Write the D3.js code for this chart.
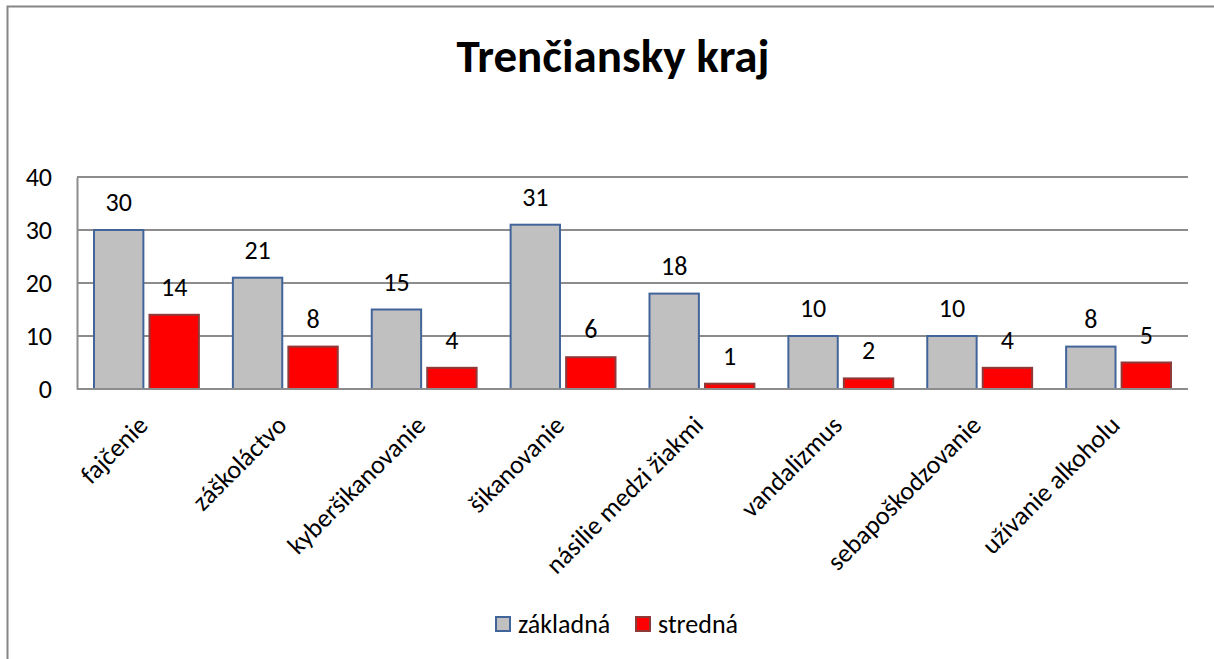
<!DOCTYPE html>
<meta charset="utf-8">
<script src="https://d3js.org/d3.v7.min.js"></script>
<style>
  body { margin: 0; background: #fff; }
  text { font-family: Carlito, Lato, "Noto Sans", sans-serif; fill: #000; }
</style>
<div id="my_dataviz"></div>
<script>

// data
var categories = ["fajčenie", "záškoláctvo", "kyberšikanovanie", "šikanovanie",
                  "násilie medzi žiakmi", "vandalizmus", "sebapoškodzovanie", "užívanie alkoholu"];
var zakladna = [30, 21, 15, 31, 18, 10, 10, 8];
var stredna  = [14, 8, 4, 6, 1, 2, 4, 5];
var seriesNames = ["základná", "stredná"];
var yTicks = [0, 10, 20, 30, 40];

var W = 1214, H = 659;
var margin = {top: 177, left: 77},
    width = 1188 - margin.left,
    height = 389 - margin.top;
var fs = 26;

var svg = d3.select("#my_dataviz")
  .append("svg")
    .attr("width", W)
    .attr("height", H);

// outer chart border (cropped at right and bottom)
svg.append("rect")
  .attr("x", 7.5).attr("y", 6.5)
  .attr("width", W + 20).attr("height", H + 20)
  .attr("fill", "none")
  .attr("stroke", "#868686")
  .attr("stroke-width", 2);

svg.append("text")
  .attr("x", 613)
  .attr("y", 72)
  .attr("text-anchor", "middle")
  .attr("font-size", 47)
  .attr("font-weight", "bold")
  .text("Trenčiansky kraj");

var g = svg.append("g")
  .attr("transform", "translate(" + margin.left + "," + margin.top + ")");

var y = d3.scaleLinear().domain([0, 40]).range([height, 0]);
var x = d3.scaleBand().domain(categories).range([0, width]);
var xs = d3.scaleBand().domain(seriesNames).range([17, x.bandwidth() - 17]).paddingInner(0.11);

// gridlines
g.selectAll(".grid")
  .data(yTicks)
  .enter().append("line")
    .attr("x1", 0).attr("x2", width)
    .attr("y1", function(d) { return y(d); })
    .attr("y2", function(d) { return y(d); })
    .attr("stroke", "#8c8c8c")
    .attr("stroke-width", 2);

// y axis
var yAxis = g.append("g")
  .call(d3.axisLeft(y).tickValues(yTicks).tickSize(0).tickPadding(25));
yAxis.select(".domain").attr("stroke", "#8c8c8c").attr("stroke-width", 2);
yAxis.selectAll("text")
  .attr("font-size", fs)
  .attr("fill", "#000")
  .style("font-family", "Carlito, Lato, 'Noto Sans', sans-serif");

var colors = {"základná": "#c0c0c0", "stredná": "#ff0000"};
var strokes = {"základná": "#41659a", "stredná": "#8f3a3a"};

var rows = categories.map(function(c, i) {
  return [{cat: c, s: "základná", v: zakladna[i]}, {cat: c, s: "stredná", v: stredna[i]}];
});

var grp = g.selectAll(".grp")
  .data(rows)
  .enter().append("g")
    .attr("transform", function(d) { return "translate(" + x(d[0].cat) + ",0)"; });

grp.selectAll("rect")
  .data(function(d) { return d; })
  .enter().append("rect")
    .attr("x", function(d) { return xs(d.s); })
    .attr("y", function(d) { return y(d.v); })
    .attr("width", xs.bandwidth())
    .attr("height", function(d) { return height - y(d.v); })
    .attr("fill", function(d) { return colors[d.s]; })
    .attr("stroke", function(d) { return strokes[d.s]; })
    .attr("stroke-width", 2);

grp.selectAll(".lbl")
  .data(function(d) { return d; })
  .enter().append("text")
    .attr("x", function(d) { return xs(d.s) + xs.bandwidth() / 2; })
    .attr("y", function(d) { return y(d.v) - 19; })
    .attr("text-anchor", "middle")
    .attr("font-size", fs)
    .text(function(d) { return d.v; });

// x axis line and rotated labels
g.append("line")
  .attr("x1", 0).attr("x2", width)
  .attr("y1", height).attr("y2", height)
  .attr("stroke", "#8c8c8c").attr("stroke-width", 2);

g.selectAll(".xl")
  .data(categories)
  .enter().append("text")
    .attr("text-anchor", "end")
    .attr("font-size", fs)
    .attr("transform", function(d) {
      return "translate(" + (x(d) + x.bandwidth() / 2 - 10) + "," + (height + 25) + ")rotate(-45)";
    })
    .attr("dy", "0.7em")
    .text(function(d) { return d; });

// legend
var legend = svg.append("g").attr("transform", "translate(496,617)");
var lx = [0, 140];
seriesNames.forEach(function(s, i) {
  legend.append("rect")
    .attr("x", lx[i]).attr("y", 0)
    .attr("width", 14).attr("height", 14)
    .attr("fill", colors[s])
    .attr("stroke", strokes[s])
    .attr("stroke-width", 2);
  legend.append("text")
    .attr("x", lx[i] + 22).attr("y", 16)
    .attr("font-size", fs)
    .text(s);
});

</script>
